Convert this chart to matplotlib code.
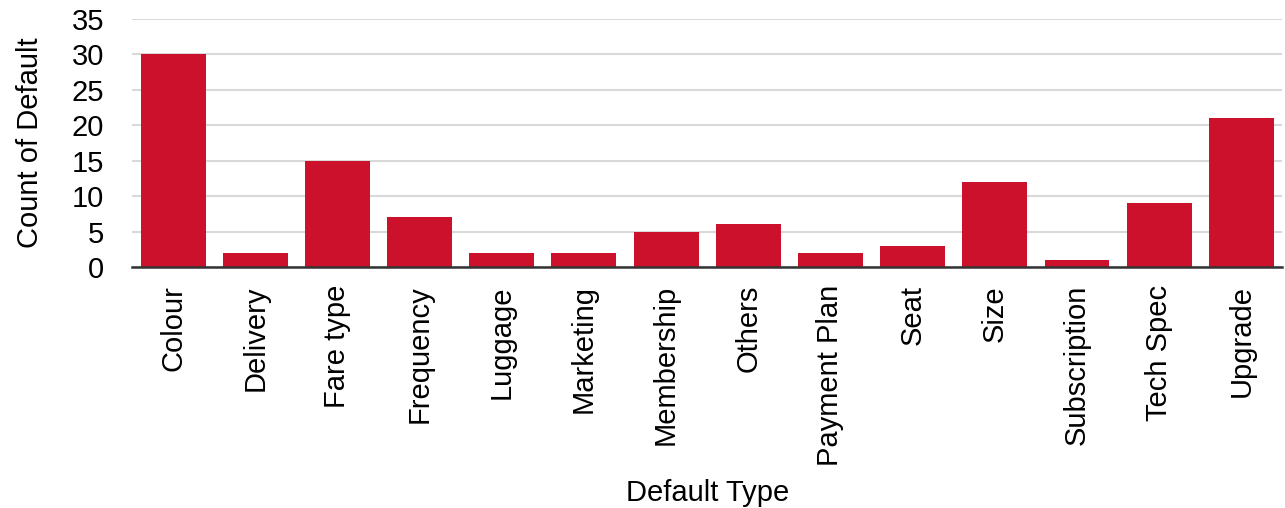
import matplotlib.pyplot as plt
import numpy as np

categories = ['Colour', 'Delivery', 'Fare type', 'Frequency', 'Luggage', 'Marketing',
              'Membership', 'Others', 'Payment Plan', 'Seat', 'Size', 'Subscription',
              'Tech Spec', 'Upgrade']
counts = [30, 2, 15, 7, 2, 2, 5, 6, 2, 3, 12, 1, 9, 21]
yticks = [0, 5, 10, 15, 20, 25, 30, 35]

plt.rcParams['font.family'] = ['Liberation Sans', 'DejaVu Sans']

fig = plt.figure(figsize=(12.85, 5.08), dpi=100)
ax = fig.add_axes([0.1027, 0.4744, 0.8953, 0.4882])

x = np.arange(len(categories))
ax.bar(x, counts, width=0.79, color='#CC112D', zorder=3)

ax.set_xlim(-0.5, len(categories) - 0.5)
ax.set_ylim(0, 35)
ax.set_yticks(yticks)
ax.set_xticks(x)
ax.set_xticklabels(categories, rotation=90, fontsize=21)
ax.tick_params(axis='y', labelsize=21, length=0, pad=20)
ax.tick_params(axis='x', length=0, pad=13)
ax.yaxis.grid(True, color='#D9D9D9', linewidth=1.5, zorder=0)

for side in ['top', 'right', 'left']:
    ax.spines[side].set_visible(False)
ax.spines['bottom'].set_color('#333333')
ax.spines['bottom'].set_linewidth(1.8)
ax.spines['bottom'].set_zorder(4)

ax.set_ylabel('Count of Default', fontsize=21, labelpad=20)
ax.set_xlabel('Default Type', fontsize=21, labelpad=9)

fig.savefig('out.png', dpi=100)
